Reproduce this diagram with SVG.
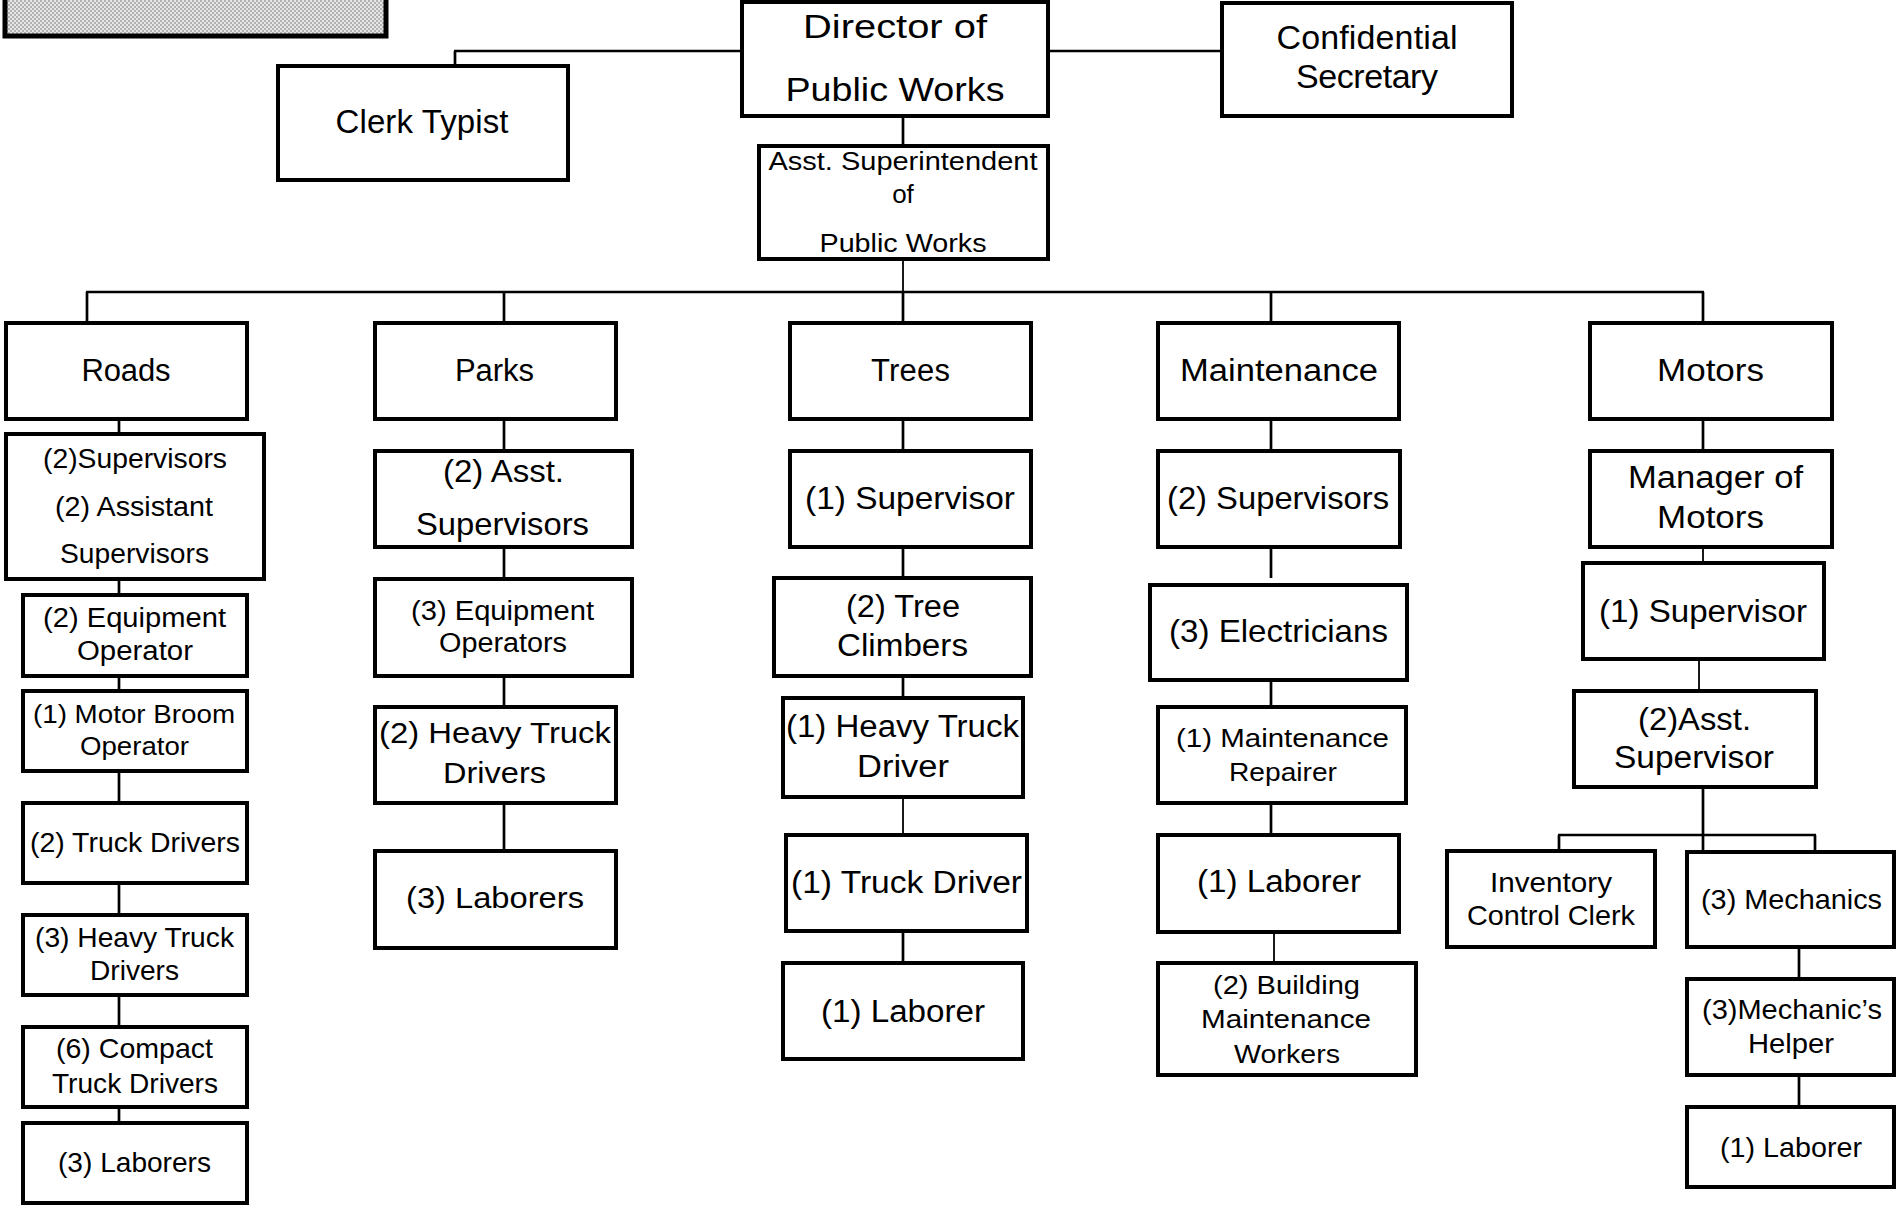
<svg xmlns="http://www.w3.org/2000/svg" width="1896" height="1209" viewBox="0 0 1896 1209">
<style>
.b{fill:#fff;stroke:#000;stroke-width:4}
.c line{stroke:#000;stroke-width:2.7}
.c line.t{stroke-width:1.8}
text{font-family:"Liberation Sans",Arial,sans-serif;fill:#000;text-anchor:middle}
</style>
<defs>
<pattern id="dots" width="4" height="4" patternUnits="userSpaceOnUse">
<rect width="4" height="4" fill="#e6e6e6"/>
<circle cx="1" cy="1" r="0.9" fill="#9a9a9a"/>
<circle cx="3" cy="3" r="0.9" fill="#9a9a9a"/>
</pattern>
</defs>
<rect width="1896" height="1209" fill="#fff"/>
<rect x="5" y="-10" width="381" height="46" fill="url(#dots)" stroke="#000" stroke-width="5"/>

<g id="connectors" class="c">
<line x1="455" y1="66" x2="455" y2="51"/>
<line x1="454" y1="51" x2="742" y2="51"/>
<line x1="1048" y1="51" x2="1222" y2="51"/>
<line x1="903" y1="116" x2="903" y2="146"/>
<line class="t" x1="903" y1="247" x2="903" y2="292"/>
<line x1="86" y1="292" x2="1704" y2="292"/>
<line x1="87" y1="292" x2="87" y2="323"/>
<line x1="504" y1="292" x2="504" y2="323"/>
<line x1="903" y1="292" x2="903" y2="323"/>
<line x1="1271" y1="292" x2="1271" y2="323"/>
<line x1="1703" y1="292" x2="1703" y2="323"/>
<line x1="119" y1="419" x2="119" y2="434"/>
<line x1="119" y1="579" x2="119" y2="595"/>
<line x1="119" y1="676" x2="119" y2="691"/>
<line x1="119" y1="771" x2="119" y2="803"/>
<line x1="119" y1="883" x2="119" y2="915"/>
<line x1="119" y1="995" x2="119" y2="1027"/>
<line x1="119" y1="1107" x2="119" y2="1123"/>
<line x1="504" y1="419" x2="504" y2="451"/>
<line x1="504" y1="547" x2="504" y2="579"/>
<line x1="504" y1="676" x2="504" y2="707"/>
<line x1="504" y1="803" x2="504" y2="851"/>
<line x1="903" y1="419" x2="903" y2="451"/>
<line x1="903" y1="547" x2="903" y2="578"/>
<line x1="903" y1="676" x2="903" y2="698"/>
<line class="t" x1="903" y1="797" x2="903" y2="835"/>
<line x1="903" y1="931" x2="903" y2="963"/>
<line x1="1271" y1="419" x2="1271" y2="451"/>
<line x1="1271" y1="547" x2="1271" y2="578"/>
<line x1="1271" y1="675" x2="1271" y2="707"/>
<line x1="1271" y1="803" x2="1271" y2="835"/>
<line class="t" x1="1274" y1="932" x2="1274" y2="963"/>
<line x1="1703" y1="419" x2="1703" y2="451"/>
<line class="t" x1="1703" y1="547" x2="1703" y2="563"/>
<line class="t" x1="1699" y1="659" x2="1699" y2="691"/>
<line x1="1703" y1="787" x2="1703" y2="852"/>
<line x1="1558" y1="835" x2="1816" y2="835"/>
<line x1="1559" y1="835" x2="1559" y2="851"/>
<line x1="1815" y1="835" x2="1815" y2="852"/>
<line x1="1799" y1="947" x2="1799" y2="979"/>
<line x1="1799" y1="1075" x2="1799" y2="1107"/>
</g>

<g id="clerk-typist"><rect class="b" x="278" y="66" width="290" height="114"/><text x="422" y="133" font-size="33" textLength="173">Clerk Typist</text></g>
<g id="director"><rect class="b" x="742" y="2" width="306" height="114"/><text x="895" y="38" font-size="34" textLength="184" lengthAdjust="spacingAndGlyphs">Director of</text><text x="895" y="101" font-size="34" textLength="219" lengthAdjust="spacingAndGlyphs">Public Works</text></g>
<g id="confidential-secretary"><rect class="b" x="1222" y="3" width="290" height="113"/><text x="1367" y="49" font-size="34" textLength="181">Confidential</text><text x="1367" y="88" font-size="34" textLength="142">Secretary</text></g>
<g id="asst-superintendent"><rect class="b" x="759" y="146" width="289" height="113"/><text x="903" y="170" font-size="26" textLength="269" lengthAdjust="spacingAndGlyphs">Asst. Superintendent</text><text x="903" y="203" font-size="26">of</text><text x="903" y="252" font-size="26" textLength="167" lengthAdjust="spacingAndGlyphs">Public Works</text></g>

<g id="roads"><rect class="b" x="6" y="323" width="241" height="96"/><text x="126" y="381" font-size="31" textLength="89">Roads</text></g>
<g id="roads-supervisors"><rect class="b" x="6" y="434" width="258" height="145"/><text x="135" y="468" font-size="27" textLength="184" lengthAdjust="spacingAndGlyphs">(2)Supervisors</text><text x="134" y="516" font-size="27" textLength="158" lengthAdjust="spacingAndGlyphs">(2) Assistant</text><text x="134.5" y="563" font-size="27" textLength="149" lengthAdjust="spacingAndGlyphs">Supervisors</text></g>
<g id="roads-equipment-operator"><rect class="b" x="23" y="595" width="224" height="81"/><text x="134.5" y="627" font-size="27" textLength="183" lengthAdjust="spacingAndGlyphs">(2) Equipment</text><text x="135" y="660" font-size="27" textLength="116" lengthAdjust="spacingAndGlyphs">Operator</text></g>
<g id="roads-motor-broom"><rect class="b" x="23" y="691" width="224" height="80"/><text x="134" y="723" font-size="26" textLength="202" lengthAdjust="spacingAndGlyphs">(1) Motor Broom</text><text x="134.5" y="755" font-size="26" textLength="109" lengthAdjust="spacingAndGlyphs">Operator</text></g>
<g id="roads-truck-drivers"><rect class="b" x="23" y="803" width="224" height="80"/><text x="135" y="852" font-size="28" textLength="210" lengthAdjust="spacingAndGlyphs">(2) Truck Drivers</text></g>
<g id="roads-heavy-truck"><rect class="b" x="23" y="915" width="224" height="80"/><text x="134.5" y="947" font-size="28" textLength="199" lengthAdjust="spacingAndGlyphs">(3) Heavy Truck</text><text x="134.5" y="980" font-size="28" textLength="89" lengthAdjust="spacingAndGlyphs">Drivers</text></g>
<g id="roads-compact"><rect class="b" x="23" y="1027" width="224" height="80"/><text x="134.5" y="1058" font-size="28" textLength="157" lengthAdjust="spacingAndGlyphs">(6) Compact</text><text x="135" y="1093" font-size="28" textLength="166" lengthAdjust="spacingAndGlyphs">Truck Drivers</text></g>
<g id="roads-laborers"><rect class="b" x="23" y="1123" width="224" height="80"/><text x="134.5" y="1172" font-size="28" textLength="153" lengthAdjust="spacingAndGlyphs">(3) Laborers</text></g>

<g id="parks"><rect class="b" x="375" y="323" width="241" height="96"/><text x="494.5" y="381" font-size="31" textLength="79">Parks</text></g>
<g id="parks-asst"><rect class="b" x="375" y="451" width="257" height="96"/><text x="503.5" y="482" font-size="32" textLength="121" lengthAdjust="spacingAndGlyphs">(2) Asst.</text><text x="502.5" y="535" font-size="32" textLength="173" lengthAdjust="spacingAndGlyphs">Supervisors</text></g>
<g id="parks-equipment"><rect class="b" x="375" y="579" width="257" height="97"/><text x="502.5" y="620" font-size="27" textLength="183" lengthAdjust="spacingAndGlyphs">(3) Equipment</text><text x="503" y="652" font-size="27" textLength="128" lengthAdjust="spacingAndGlyphs">Operators</text></g>
<g id="parks-heavy-truck"><rect class="b" x="375" y="707" width="241" height="96"/><text x="495" y="743" font-size="30" textLength="232" lengthAdjust="spacingAndGlyphs">(2) Heavy Truck</text><text x="494.5" y="783" font-size="30" textLength="103" lengthAdjust="spacingAndGlyphs">Drivers</text></g>
<g id="parks-laborers"><rect class="b" x="375" y="851" width="241" height="97"/><text x="495" y="908" font-size="30" textLength="178" lengthAdjust="spacingAndGlyphs">(3) Laborers</text></g>

<g id="trees"><rect class="b" x="790" y="323" width="241" height="96"/><text x="910.5" y="381" font-size="31" textLength="79">Trees</text></g>
<g id="trees-supervisor"><rect class="b" x="790" y="451" width="241" height="96"/><text x="910" y="509" font-size="32" textLength="210" lengthAdjust="spacingAndGlyphs">(1) Supervisor</text></g>
<g id="tree-climbers"><rect class="b" x="774" y="578" width="257" height="98"/><text x="903" y="617" font-size="31" textLength="114" lengthAdjust="spacingAndGlyphs">(2) Tree</text><text x="902.5" y="656" font-size="31" textLength="131" lengthAdjust="spacingAndGlyphs">Climbers</text></g>
<g id="trees-heavy-truck"><rect class="b" x="783" y="698" width="240" height="99"/><text x="902.5" y="737" font-size="31" textLength="233" lengthAdjust="spacingAndGlyphs">(1) Heavy Truck</text><text x="903" y="777" font-size="31" textLength="92" lengthAdjust="spacingAndGlyphs">Driver</text></g>
<g id="trees-truck-driver"><rect class="b" x="786" y="835" width="241" height="96"/><text x="906.5" y="893" font-size="31" textLength="231" lengthAdjust="spacingAndGlyphs">(1) Truck Driver</text></g>
<g id="trees-laborer"><rect class="b" x="783" y="963" width="240" height="96"/><text x="903" y="1022" font-size="31" textLength="164" lengthAdjust="spacingAndGlyphs">(1) Laborer</text></g>

<g id="maintenance"><rect class="b" x="1158" y="323" width="241" height="96"/><text x="1279" y="381" font-size="31" textLength="198" lengthAdjust="spacingAndGlyphs">Maintenance</text></g>
<g id="maint-supervisors"><rect class="b" x="1158" y="451" width="242" height="96"/><text x="1278" y="509" font-size="32" textLength="222" lengthAdjust="spacingAndGlyphs">(2) Supervisors</text></g>
<g id="electricians"><rect class="b" x="1150" y="585" width="257" height="95"/><text x="1278.5" y="642" font-size="32" textLength="219" lengthAdjust="spacingAndGlyphs">(3) Electricians</text></g>
<g id="maint-repairer"><rect class="b" x="1158" y="707" width="248" height="96"/><text x="1282.5" y="747" font-size="26" textLength="213" lengthAdjust="spacingAndGlyphs">(1) Maintenance</text><text x="1283" y="781" font-size="26" textLength="108" lengthAdjust="spacingAndGlyphs">Repairer</text></g>
<g id="maint-laborer"><rect class="b" x="1158" y="835" width="241" height="97"/><text x="1279" y="892" font-size="31" textLength="164" lengthAdjust="spacingAndGlyphs">(1) Laborer</text></g>
<g id="building-maint"><rect class="b" x="1158" y="963" width="258" height="112"/><text x="1286.5" y="994" font-size="26" textLength="147" lengthAdjust="spacingAndGlyphs">(2) Building</text><text x="1286" y="1028" font-size="26" textLength="170" lengthAdjust="spacingAndGlyphs">Maintenance</text><text x="1287" y="1063" font-size="26" textLength="106" lengthAdjust="spacingAndGlyphs">Workers</text></g>

<g id="motors"><rect class="b" x="1590" y="323" width="242" height="96"/><text x="1710.5" y="381" font-size="31" textLength="107" lengthAdjust="spacingAndGlyphs">Motors</text></g>
<g id="manager-motors"><rect class="b" x="1590" y="451" width="242" height="96"/><text x="1715.5" y="488" font-size="31" textLength="175" lengthAdjust="spacingAndGlyphs">Manager of</text><text x="1710.5" y="528" font-size="31" textLength="107" lengthAdjust="spacingAndGlyphs">Motors</text></g>
<g id="motors-supervisor"><rect class="b" x="1583" y="563" width="241" height="96"/><text x="1703" y="622" font-size="31" textLength="208" lengthAdjust="spacingAndGlyphs">(1) Supervisor</text></g>
<g id="motors-asst"><rect class="b" x="1574" y="691" width="242" height="96"/><text x="1694.5" y="730" font-size="31" textLength="113" lengthAdjust="spacingAndGlyphs">(2)Asst.</text><text x="1694" y="768" font-size="31" textLength="160" lengthAdjust="spacingAndGlyphs">Supervisor</text></g>
<g id="inventory-clerk"><rect class="b" x="1447" y="851" width="208" height="96"/><text x="1551" y="892" font-size="28" textLength="122" lengthAdjust="spacingAndGlyphs">Inventory</text><text x="1551" y="925" font-size="28" textLength="168" lengthAdjust="spacingAndGlyphs">Control Clerk</text></g>
<g id="mechanics"><rect class="b" x="1687" y="852" width="207" height="95"/><text x="1791.5" y="909" font-size="28" textLength="181" lengthAdjust="spacingAndGlyphs">(3) Mechanics</text></g>
<g id="mechanics-helper"><rect class="b" x="1687" y="979" width="207" height="96"/><text x="1792" y="1019" font-size="28" textLength="180" lengthAdjust="spacingAndGlyphs">(3)Mechanic’s</text><text x="1791" y="1053" font-size="28" textLength="86" lengthAdjust="spacingAndGlyphs">Helper</text></g>
<g id="motors-laborer"><rect class="b" x="1687" y="1107" width="207" height="80"/><text x="1791" y="1157" font-size="28" textLength="142" lengthAdjust="spacingAndGlyphs">(1) Laborer</text></g>
</svg>
